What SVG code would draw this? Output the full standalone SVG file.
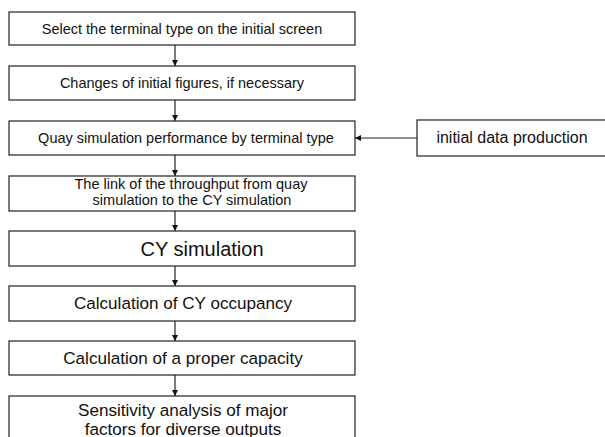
<svg xmlns="http://www.w3.org/2000/svg" width="605" height="437" viewBox="0 0 605 437">
<style>
.box{fill:#fff;stroke:#222;stroke-width:1.2}
.t{font-family:"Liberation Sans",Arial,sans-serif;fill:#111;text-anchor:middle;dominant-baseline:central}
.s{font-size:14.5px}
.m{font-size:17.1px}
.l{font-size:20px}
.c{stroke:#222;stroke-width:1.2;fill:none;marker-end:url(#ah)}
</style>
<defs>
<marker id="ah" viewBox="0 0 8 8" refX="8" refY="4" markerWidth="6" markerHeight="6" markerUnits="userSpaceOnUse" orient="auto">
<path d="M0,0 L8,4 L0,8 Z" fill="#111"/>
</marker>
</defs>
<rect width="605" height="437" fill="#fff"/>
<g id="connectors">
<line class="c" x1="175" y1="45" x2="175" y2="66"/>
<line class="c" x1="175" y1="100" x2="175" y2="121"/>
<line class="c" x1="175" y1="155" x2="175" y2="176"/>
<line class="c" x1="175" y1="211" x2="175" y2="231"/>
<line class="c" x1="175" y1="266" x2="175" y2="286"/>
<line class="c" x1="175" y1="321" x2="175" y2="341"/>
<line class="c" x1="175" y1="375" x2="175" y2="396"/>
<line class="c" x1="417" y1="138" x2="355" y2="138"/>
</g>
<g id="n1"><rect class="box" x="9" y="12" width="346" height="33"/><text class="t s" x="182" y="28.5">Select the terminal type on the initial screen</text></g>
<g id="n2"><rect class="box" x="9" y="66" width="346" height="34"/><text class="t s" x="182" y="83">Changes of initial figures, if necessary</text></g>
<g id="n3"><rect class="box" x="9" y="121" width="346" height="34"/><text class="t s" x="186" y="138">Quay simulation performance by terminal type</text></g>
<g id="n4"><rect class="box" x="9" y="176" width="346" height="35"/><text class="t s" x="191" y="184">The link of the throughput from quay</text><text class="t s" x="192" y="199.5">simulation to the CY simulation</text></g>
<g id="n5"><rect class="box" x="9" y="231" width="346" height="35"/><text class="t l" x="202" y="248.5">CY simulation</text></g>
<g id="n6"><rect class="box" x="9" y="286" width="346" height="35"/><text class="t m" x="183" y="303.5">Calculation of CY occupancy</text></g>
<g id="n7"><rect class="box" x="9" y="341" width="346" height="34"/><text class="t m" x="183" y="358">Calculation of a proper capacity</text></g>
<g id="n8"><rect class="box" x="9" y="396" width="346" height="60"/><text class="t m" x="183" y="410">Sensitivity analysis of major</text><text class="t m" x="183" y="429">factors for diverse outputs</text></g>
<g id="n9"><rect class="box" x="417" y="120" width="200" height="36"/><text class="t" x="512" y="137" style="font-size:16px">initial data production</text></g>
</svg>
